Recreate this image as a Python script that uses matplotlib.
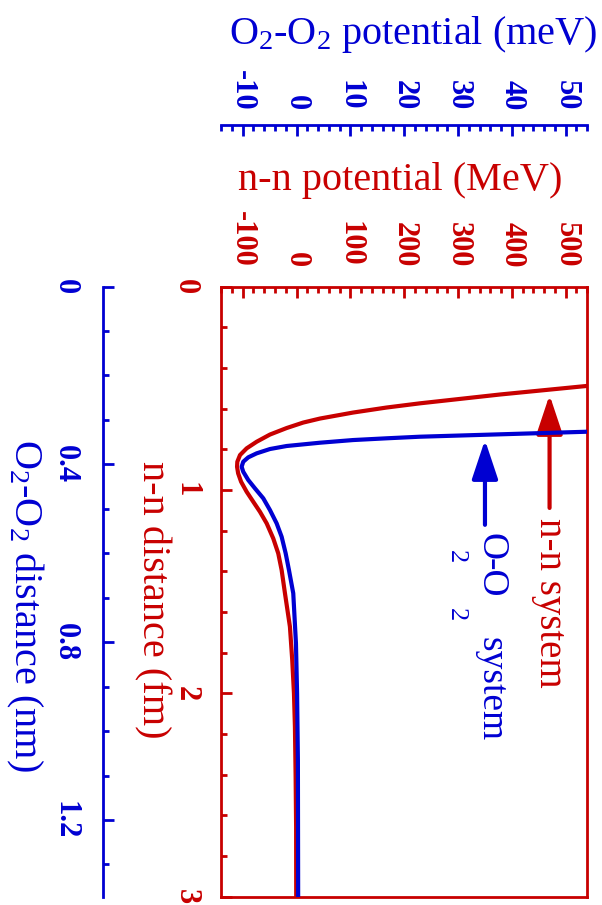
import matplotlib
matplotlib.use('Agg')
import matplotlib.pyplot as plt
import numpy as np

plt.rcParams['font.family'] = 'Liberation Serif'
plt.rcParams['mathtext.fontset'] = 'custom'
plt.rcParams['mathtext.rm'] = 'Liberation Serif'
plt.rcParams['mathtext.it'] = 'Liberation Serif:italic'

RED = '#c80000'
BLUE = '#0000d2'

# n-n potential: distance (fm), potential (MeV)
nn_r = [0.45, 0.489, 0.531, 0.5745, 0.5952, 0.6198, 0.6493, 0.669, 0.696,
        0.728, 0.7634, 0.7959, 0.8288, 0.8618, 0.8864, 0.9188, 0.9602,
        1.0093, 1.0585, 1.1077, 1.1648, 1.2386, 1.3124, 1.3945, 1.509,
        1.673, 1.837, 2.001, 2.165, 2.411, 2.657, 3.0]
nn_v = [700, 539, 378, 229, 167, 105, 43.5, 12.4, -18.4,
        -49.4, -74.1, -92.7, -105, -110, -110.5, -108.5, -103,
        -92.7, -80.4, -68.0, -55.5, -43.3, -34.0, -27.7, -21.5,
        -12.3, -8.0, -4.8, -3.0, -1.7, -0.8, -0.6]

# O2-O2 potential: distance (nm), potential (meV)
oo_r = [0.32, 0.3266, 0.3378, 0.3414, 0.3453, 0.3513, 0.3587, 0.3655,
        0.3752, 0.3842, 0.3941, 0.4053, 0.4166, 0.4352, 0.4539, 0.4764,
        0.5027, 0.5326, 0.5628, 0.6001, 0.6377, 0.690, 0.8025, 0.915,
        1.065, 1.372]
oo_v = [75, 53.9, 22.9, 16.7, 10.5, 4.35, -1.84, -4.94,
        -7.41, -8.97, -9.90, -10.2, -9.90, -8.97, -7.73, -6.18,
        -4.94, -3.70, -2.77, -2.02, -1.41, -0.61, -0.11, 0.1,
        0.25, 0.3]

nn_vticks = [-100, 0, 100, 200, 300, 400, 500]
nn_rticks = [0, 1, 2, 3]
oo_vticks = [-10, 0, 10, 20, 30, 40, 50]
oo_rticks = [0, 0.4, 0.8, 1.2]

fig = plt.figure(figsize=(6.02, 9.05), dpi=100)
rect = [0.3674, 0.00939, 0.6081, 0.6740]

# red (nuclear) axes, drawn as the box
ax = fig.add_axes(rect)
ax.plot(nn_v, nn_r, color=RED, lw=3)
ax.set_xlim(-140, 540)
ax.set_ylim(3, 0)
ax.xaxis.tick_top()
ax.set_xticks(nn_vticks, labels=[str(t) for t in nn_vticks], fontweight='bold', fontsize=22)
ax.set_xticks(np.arange(-140, 541, 20), minor=True)
ax.set_yticks(nn_rticks, labels=[str(t) for t in nn_rticks], fontweight='bold', fontsize=22)
ax.set_yticks(np.arange(0, 3.01, 0.2), minor=True)
ax.tick_params(axis='x', which='both', top=True, bottom=False, direction='in',
               colors=RED, width=2, labelrotation=-90, pad=14)
ax.tick_params(axis='y', which='both', left=True, right=False, direction='in',
               colors=RED, width=2, labelrotation=-90, pad=15)
ax.tick_params(which='major', length=8)
ax.tick_params(which='minor', length=4.5)
for lbl in ax.get_yticklabels():
    lbl.set_va('center')
for sp in ax.spines.values():
    sp.set_color(RED)
    sp.set_linewidth(2)
ax.set_xlabel('n-n potential (MeV)', fontsize=29, color=RED, va='center')
ax.xaxis.set_label_position('top')
ax.xaxis.set_label_coords(0.488, 1.158)
ax.set_ylabel('n-n distance (fm)', fontsize=29, color=RED, rotation=-90,
              va='center', ha='center')
ax.yaxis.set_label_coords(-0.189, 0.486)

ax.annotate('', xy=(470, 0.533), xytext=(470, 1.089),
            arrowprops=dict(arrowstyle='-|>,head_length=24,head_width=8',
                            mutation_scale=1, lw=3, color=RED,
                            shrinkA=0, shrinkB=0))
ax.text(452, 1.139, 'n-n system', color=RED, fontsize=28, rotation=-90,
        rotation_mode='anchor', ha='left', va='baseline')

# blue (molecular) axes, spines pushed outward
ax2 = fig.add_axes(rect)
ax2.patch.set_visible(False)
ax2.plot(oo_v, oo_r, color=BLUE, lw=3)
ax2.set_xlim(-14, 54)
ax2.set_ylim(1.372, 0)
ax2.spines['right'].set_visible(False)
ax2.spines['bottom'].set_visible(False)
ax2.spines['left'].set_position(('outward', 85))
ax2.spines['top'].set_position(('outward', 116.6))
for side in ['left', 'top']:
    ax2.spines[side].set_color(BLUE)
    ax2.spines[side].set_linewidth(2)
ax2.xaxis.tick_top()
ax2.set_xticks(oo_vticks, labels=[str(t) for t in oo_vticks], fontweight='bold', fontsize=22)
ax2.set_xticks(np.arange(-14, 54.1, 2), minor=True)
ax2.set_yticks(oo_rticks, labels=[str(t) for t in oo_rticks], fontweight='bold', fontsize=22)
ax2.set_yticks(np.arange(0, 1.372, 0.1), minor=True)
ax2.tick_params(axis='x', which='both', top=True, bottom=False, direction='in',
                colors=BLUE, width=2, labelrotation=-90, pad=10.4)
ax2.tick_params(axis='y', which='both', left=True, right=False, direction='in',
                colors=BLUE, width=2, labelrotation=-90, pad=16.7)
ax2.tick_params(which='major', length=8)
ax2.tick_params(which='minor', length=4.5)
for lbl in ax2.get_yticklabels():
    lbl.set_va('center')
ax2.set_xlabel(r'O$_2$-O$_2$ potential (meV)', fontsize=29, color=BLUE, va='center')
ax2.xaxis.set_label_position('top')
ax2.xaxis.set_label_coords(0.524, 1.397)
ax2.set_ylabel(r'O$_2$-O$_2$ distance (nm)', fontsize=29, color=BLUE, rotation=-90,
               va='center', ha='center')
ax2.yaxis.set_label_coords(-0.536, 0.478)

ax2.annotate('', xy=(35.0, 0.345), xytext=(35.0, 0.536),
             arrowprops=dict(arrowstyle='-|>,head_length=24,head_width=8',
                             mutation_scale=1, lw=3, color=BLUE,
                             shrinkA=0, shrinkB=0))
# label with low-set subscripts
for x, y, s, size in [(34.4, 0.5544, 'O', 27), (28.5, 0.5927, '2', 19),
                      (34.4, 0.6107, '-O', 27), (28.5, 0.723, '2', 19),
                      (34.4, 0.788, 'system', 27)]:
    ax2.text(x, y, s, color=BLUE, fontsize=size, rotation=-90,
             rotation_mode='anchor', ha='left', va='baseline')

fig.savefig('out.png', dpi=100)
